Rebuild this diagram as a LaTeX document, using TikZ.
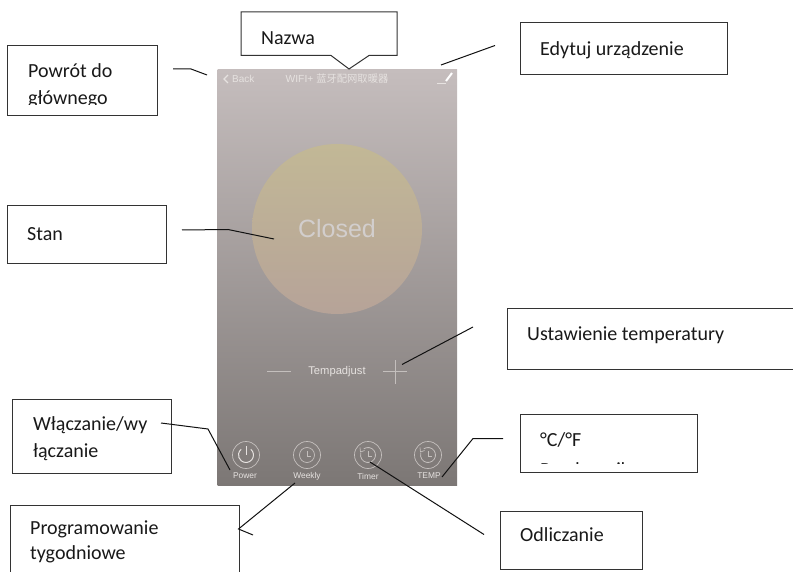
\documentclass[tikz,border=0pt]{standalone}
\usepackage{fontspec}
\setmainfont{Carlito}
\newfontfamily\cjkfont{Noto Sans CJK SC}
\newfontfamily\uifont{Liberation Sans}
\definecolor{boxline}{HTML}{333333}
\definecolor{leader}{HTML}{111111}
\definecolor{uitext}{HTML}{E6E2E0}
\definecolor{icon}{HTML}{C4BFBD}
\tikzset{
  x=1pt,y=-1pt,
  calloutbox/.style={draw=boxline,line width=1pt,fill=white,rectangle,anchor=north west,inner sep=0pt},
  lab/.style={anchor=west,inner sep=0pt,font=\fontsize{20}{24}\selectfont,text=black!90},
  leaderline/.style={draw=leader,line width=1pt,line join=miter},
  uilabel/.style={text=uitext,inner sep=0pt,font=\uifont\fontsize{8.4}{10}\selectfont},
  ring/.style={draw=icon,line width=.7pt},
  glyph/.style={draw=uitext,line width=.9pt},
}
\begin{document}
\begin{tikzpicture}
\useasboundingbox (0,0) rectangle (793,572);
% phone screen
\path[shade,top color={rgb,255:red,197;green,189;blue,189},middle color={rgb,255:red,168;green,160;blue,161},bottom color={rgb,255:red,124;green,119;blue,117}] (217.5,70) rectangle (457,485);
\coordinate (cc) at (337,229);
\path[shade,top color={rgb,255:red,194;green,184;blue,150},bottom color={rgb,255:red,182;green,163;blue,152}] (cc) circle (85pt);
\node[inner sep=0pt,text=uitext!80!gray,font=\uifont\fontsize{25}{28}\selectfont] (closed) at (337,229) {Closed};
% top bar
\coordinate (ba) at (228,75); \coordinate (bb) at (224,79); \coordinate (bc) at (228,83);
\draw[glyph,line width=1.1pt] (ba) -- (bb) -- (bc);
\node[uilabel,anchor=west,font=\uifont\fontsize{10}{11}\selectfont] (back) at (232,79) {Back};
\node[uilabel,font=\uifont\fontsize{10.3}{11}\selectfont] (title) at (337,79) {WIFI+ {\cjkfont 蓝牙配网取暖器}};
\coordinate (pa) at (452,73); \coordinate (pb) at (446,81); \coordinate (pc) at (437,83.5); \coordinate (pd) at (446,83.5);
\draw[draw=white,line width=2pt] (pa) -- (pb);
\draw[draw=uitext,line width=.6pt] (pc) -- (pd);
% temp adjust
\node[uilabel,font=\uifont\fontsize{11.2}{12}\selectfont] (tempadj) at (337,372) {Tempadjust};
\coordinate (ma) at (267,371); \coordinate (mb) at (291,371);
\coordinate (pla) at (383,371); \coordinate (plb) at (407,371);
\coordinate (plc) at (395,360); \coordinate (pld) at (395,384);
\draw[icon,line width=.6pt] (ma) -- (mb) (pla) -- (plb) (plc) -- (pld);
% bottom icons
\foreach \n/\xx in {p/246,w/307,t/368,e/428}{
  \coordinate (ic\n) at (\xx,455);
  \draw[ring] (ic\n) circle (13.5pt);
}
\draw[glyph,line width=1pt] ([shift={(50:7.5pt)}]icp) arc[start angle=50,end angle=-230,radius=7.5pt];
\coordinate (pwa) at (246,446); \coordinate (pwb) at (246,455);
\draw[glyph,line width=1pt] (pwa) -- (pwb);
\draw[icon,line width=.7pt] (icw) circle (7.5pt);
\coordinate (wa) at (307,451); \coordinate (wb) at (307,456); \coordinate (wc) at (311,456);
\draw[icon,line width=.6pt] (wa) -- (wb) -- (wc);
\foreach \n/\xx in {t/368,e/428}{
  \draw[icon,line width=.8pt] ([shift={(125:7.5pt)}]ic\n) arc[start angle=125,end angle=-195,radius=7.5pt];
  \draw[icon,line width=.7pt] (\xx-8,447.5) -- (\xx-7.5,452) -- (\xx-3.5,450.5);
  \draw[icon,line width=.6pt] (\xx,451) -- (\xx,456) -- (\xx+4,456);
}
\node[uilabel] (lp) at (245,476) {Power};
\node[uilabel] (lw) at (307,476) {Weekly};
\node[uilabel] (lt) at (368,476) {Timer};
\node[uilabel] (le) at (429,476) {TEMP};
% boxes
\node[calloutbox,minimum width=150pt,minimum height=70pt] (bpowrot) at (7,45.5) {};
\begin{scope}
\clip (7,45.5) rectangle (157,105);
\node[lab] (tpowrot) at (28,71) {Powrót do};
\node[lab] (tglownego) at (28,99) {głównego};
\end{scope}
\coordinate (napa) at (241,12); \coordinate (napb) at (397,12); \coordinate (napc) at (397,55.5);
\coordinate (napd) at (369,55.5); \coordinate (nape) at (349,69); \coordinate (napf) at (331,55.5); \coordinate (napg) at (241,55.5);
\draw[draw=boxline,line width=1pt,fill=white] (napa) -- (napb) -- (napc) -- (napd) -- (nape) -- (napf) -- (napg) -- cycle;
\node[lab] (tnazwa) at (261,38) {Nazwa};
\node[calloutbox,minimum width=207pt,minimum height=52pt] (bedyt) at (519.5,22) {};
\node[lab] (tedyt) at (540,50) {Edytuj urządzenie};
\node[calloutbox,minimum width=159pt,minimum height=58pt] (bstan) at (7,205.5) {};
\node[lab] (tstan) at (27,234) {Stan};
\node[calloutbox,minimum width=300pt,minimum height=60.5pt] (bust) at (506.5,308.5) {};
\node[lab] (tust) at (527,335) {Ustawienie temperatury};
\node[calloutbox,minimum width=159pt,minimum height=74pt] (bwl) at (12,398.5) {};
\node[lab] (twla) at (33,425) {Włączanie/wy};
\node[lab] (twlb) at (33,452) {łączanie};
\node[calloutbox,minimum width=229pt,minimum height=90pt] (bprog) at (9.5,505) {};
\node[lab] (tproga) at (30,529) {Programowanie};
\node[lab] (tprogb) at (30,554) {tygodniowe};
\node[calloutbox,minimum width=177pt,minimum height=58pt] (bc) at (519.5,414) {};
\begin{scope}
\clip (519.5,414) rectangle (696,463);
\node[lab] (tca) at (540,440) {°C/°F};
\node[lab] (tcb) at (540,471) {Przełącznik};
\end{scope}
\node[calloutbox,minimum width=142pt,minimum height=57.5pt] (bodl) at (500,511) {};
\node[lab] (todl) at (520,535) {Odliczanie};
% leaders
\coordinate (l1a) at (173,69); \coordinate (l1b) at (191,69); \coordinate (l1c) at (207,75);
\draw[leaderline] (l1a) -- (l1b) -- (l1c);
\coordinate (l2a) at (495,45.5); \coordinate (l2b) at (441,65);
\draw[leaderline] (l2a) -- (l2b);
\coordinate (l3a) at (182,230); \coordinate (l3b) at (228,229.5); \coordinate (l3c) at (274,239);
\draw[leaderline] (l3a) -- (l3b) -- (l3c);
\coordinate (l4a) at (473,327); \coordinate (l4b) at (402,364.5);
\draw[leaderline] (l4a) -- (l4b);
\coordinate (l5a) at (161,423); \coordinate (l5b) at (208,429); \coordinate (l5c) at (230,470);
\draw[leaderline] (l5a) -- (l5b) -- (l5c);
\coordinate (l6a) at (295,483); \coordinate (l6b) at (238.5,529); \coordinate (l6c) at (253,535);
\draw[leaderline] (l6a) -- (l6b) -- (l6c);
\coordinate (l7a) at (503,438.5); \coordinate (l7b) at (473,438.5); \coordinate (l7c) at (442,477);
\draw[leaderline] (l7a) -- (l7b) -- (l7c);
\coordinate (l8a) at (484,534.5); \coordinate (l8b) at (370,462);
\draw[leaderline] (l8a) -- (l8b);
\end{tikzpicture}
\end{document}
